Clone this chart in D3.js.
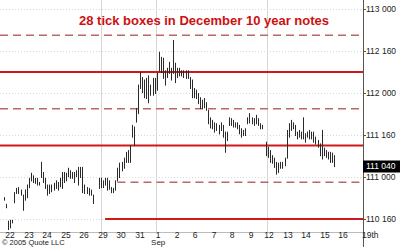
<!DOCTYPE html>
<html>
<head>
<meta charset="utf-8">
<script src="https://cdn.jsdelivr.net/npm/d3@7"></script>
<style>
  body { margin: 0; background: #fff; }
  svg { display: block; }
  text { font-family: Arial, "Liberation Sans", sans-serif; }
</style>
</head>
<body>
<div id="chart"></div>
<script>
// Intraday bars (high / low), null = gap between sessions
const highs = [110.76,110.68,110.48,110.49,110.49,110.82,110.87,110.88,110.85,110.79,
  110.85,110.91,110.99,111.05,111.02,110.99,110.99,110.94,111.18,111.06,
  110.99,110.91,110.91,110.91,110.93,110.96,110.94,110.99,111.06,111.06,
  111.05,111.11,111.08,111.06,111.06,111.08,111.12,111.12,111.12,110.91,
  110.88,110.87,110.85,110.79,null,null,110.99,110.99,110.96,110.99,
  110.99,110.96,110.88,110.87,110.96,111.11,111.17,111.18,111.23,111.30,
  111.32,111.38,111.62,111.60,111.82,112.10,112.25,112.19,112.16,112.18,
  112.21,112.10,112.18,112.18,112.24,112.49,112.43,112.42,112.27,112.30,
  112.37,112.30,112.63,112.36,112.30,112.30,112.27,112.27,112.27,112.27,
  112.19,112.16,112.06,112.04,112.00,111.95,111.92,111.94,111.89,111.80,
  111.71,111.68,111.65,111.64,111.62,111.65,111.62,111.54,111.54,111.71,
  111.70,111.68,111.65,111.65,111.62,111.58,111.56,111.58,111.71,111.76,
  111.71,111.70,111.74,111.70,111.64,111.62,null,111.42,111.36,111.32,
  111.26,111.23,111.18,111.17,111.18,111.18,111.23,111.56,111.64,111.68,
  111.65,111.62,111.54,111.56,111.54,111.71,111.52,111.54,111.56,111.54,
  111.54,111.48,111.44,111.40,111.56,111.35,111.32,111.30,111.30,111.29,
  111.26];
const lows = [110.73,110.64,110.38,110.40,110.46,110.70,110.81,110.81,110.79,110.61,
  110.73,110.76,110.88,110.96,110.94,110.93,110.91,110.91,111.00,110.94,
  110.87,110.79,110.81,110.83,110.85,110.87,110.85,110.89,110.87,110.94,
  110.96,111.01,110.99,110.99,110.94,111.01,110.91,111.00,110.82,110.81,
  110.81,110.79,110.79,110.69,null,null,110.87,110.88,110.88,110.91,
  110.85,110.86,110.82,110.82,110.85,110.96,111.00,111.08,111.11,111.18,
  111.18,111.18,111.48,111.38,111.66,111.76,112.06,112.01,111.95,111.94,
  111.89,111.98,111.98,112.00,112.04,112.27,112.25,112.18,112.10,112.19,
  112.24,112.16,112.24,112.13,112.19,112.21,112.21,112.19,112.18,112.18,
  112.06,111.95,111.95,111.94,111.88,111.82,111.82,111.83,111.80,111.64,
  111.59,111.58,111.54,111.56,111.52,111.56,111.48,111.30,111.44,111.62,
  111.62,111.60,111.60,111.58,111.52,111.48,111.50,111.50,111.64,111.65,
  111.64,111.62,111.64,111.62,111.58,111.58,null,111.26,111.24,111.18,
  111.17,111.12,111.04,111.06,111.11,111.11,111.14,111.23,111.48,111.56,
  111.58,111.50,111.46,111.48,111.46,111.46,111.42,111.48,111.46,111.46,
  111.42,111.40,111.36,111.26,111.22,111.26,111.24,111.22,111.18,111.18,
  111.13];

const dayLabels = ["22","23","24","25","26","29","30","31","1","2","6","7","8","9","12","13","14","15","16","19th"];
const gridDays = ["29","1","12"];
const monthLabels = [{day: "1", text: "Sep"}];

const yTicks = [113, 112.5, 112, 111.5, 111, 110.5];
const yTickLabels = ["113 000","112 160","112 000","111 160","111 000","110 160"];

// 28-tick box lines (solid) and half-box lines (dashed)
const boxLevels = [112.6875, 112.25, 111.8125, 111.375, 110.9375, 110.5];
const boxSolid  = [false, true, false, true, false, true];
const boxStart  = [-2, -2, -2, -2, 55, 49];   // bar slot where each line begins

const lastPrice = 111.125, lastLabel = "111 040";
const title = "28 tick boxes in December 10 year notes";

const W = 400, H = 247, plotRight = 363, plotBottom = 232;

const svg = d3.select("#chart").append("svg")
    .attr("width", W).attr("height", H);

const y = d3.scaleLinear().domain([110.5, 113]).range([219, 9]);
const xBar = d3.scaleLinear().domain([0, highs.length - 1]).range([4, 334]);
const xDay = d3.scaleLinear().domain([0, dayLabels.length - 1]).range([10, 362]);

// horizontal grid
svg.append("g").selectAll("line")
    .data(yTicks)
  .enter().append("line")
    .attr("x1", 0).attr("x2", plotRight)
    .attr("y1", d => Math.round(y(d)) + 0.5).attr("y2", d => Math.round(y(d)) + 0.5)
    .attr("stroke", "#d8d8d8").attr("stroke-dasharray", "1,2");

// vertical grid at week / month breaks
svg.append("g").selectAll("line")
    .data(gridDays)
  .enter().append("line")
    .attr("x1", d => Math.round(xDay(dayLabels.indexOf(d))) - 1.5)
    .attr("x2", d => Math.round(xDay(dayLabels.indexOf(d))) - 1.5)
    .attr("y1", 0).attr("y2", plotBottom)
    .attr("stroke", "#d6d6d6");

// box lines
const boxes = boxLevels.map((v, i) => ({v, solid: boxSolid[i], start: boxStart[i]}));
svg.append("g").selectAll("line")
    .data(boxes)
  .enter().append("line")
    .attr("x1", d => Math.max(0, xBar(d.start)))
    .attr("x2", plotRight)
    .attr("y1", d => y(d.v)).attr("y2", d => y(d.v))
    .attr("stroke", d => d.solid ? "#d01818" : "#b86868")
    .attr("stroke-width", d => d.solid ? 2 : 1.6)
    .attr("stroke-dasharray", d => d.solid ? null : "8,5");

// price bars
const bars = highs.map((h, i) => ({i, h, l: lows[i]})).filter(d => d.h != null);
svg.append("g").selectAll("line")
    .data(bars)
  .enter().append("line")
    .attr("x1", d => Math.round(xBar(d.i)) + 0.5)
    .attr("x2", d => Math.round(xBar(d.i)) + 0.5)
    .attr("y1", d => y(d.h)).attr("y2", d => y(d.l) + 1)
    .attr("stroke", "#2a2a2a").attr("stroke-width", 1);

// title
svg.append("text")
    .attr("x", 204).attr("y", 25)
    .attr("text-anchor", "middle")
    .attr("fill", "#cc1010")
    .attr("font-weight", "bold").attr("font-size", "13px")
    .text(title);

// right price axis
svg.append("line")
    .attr("x1", plotRight + 0.5).attr("x2", plotRight + 0.5)
    .attr("y1", 0).attr("y2", H)
    .attr("stroke", "#555");
const yAxis = svg.append("g").selectAll("g")
    .data(yTicks)
  .enter().append("g")
    .attr("transform", d => `translate(${plotRight},${Math.round(y(d)) + 0.5})`);
yAxis.append("line").attr("x1", 0).attr("x2", 3).attr("stroke", "#555");
yAxis.append("text")
    .attr("x", 3).attr("dy", "0.35em")
    .attr("font-size", "8.5px").attr("fill", "#222")
    .text((d, i) => yTickLabels[i]);

// last price flag
const flag = svg.append("g").attr("transform", `translate(${plotRight},${y(lastPrice)})`);
flag.append("rect").attr("x", 0).attr("y", -6).attr("width", W - plotRight).attr("height", 12).attr("fill", "#000");
flag.append("text").attr("x", 3).attr("dy", "0.35em")
    .attr("font-size", "8.5px").attr("fill", "#fff").text(lastLabel);

// bottom date axis
svg.append("line")
    .attr("x1", 0).attr("x2", plotRight)
    .attr("y1", plotBottom + 0.5).attr("y2", plotBottom + 0.5)
    .attr("stroke", "#bbb");
const xAxis = svg.append("g").selectAll("g")
    .data(dayLabels)
  .enter().append("g")
    .attr("transform", (d, i) => `translate(${Math.round(xDay(i))},${plotBottom})`);
xAxis.append("text")
    .attr("y", 5.5)
    .attr("text-anchor", (d, i) => i === dayLabels.length - 1 ? "start" : "middle")
    .attr("font-size", "8.5px").attr("fill", "#222")
    .text(d => d);

svg.append("g").selectAll("text")
    .data(monthLabels)
  .enter().append("text")
    .attr("x", d => xDay(dayLabels.indexOf(d.day)))
    .attr("y", 245)
    .attr("text-anchor", "middle")
    .attr("font-size", "8px").attr("fill", "#222")
    .text(d => d.text);

svg.append("text")
    .attr("x", 2).attr("y", 245)
    .attr("font-size", "7.5px").attr("fill", "#222")
    .text("\u00a9 2005 Quote LLC");
</script>
</body>
</html>
